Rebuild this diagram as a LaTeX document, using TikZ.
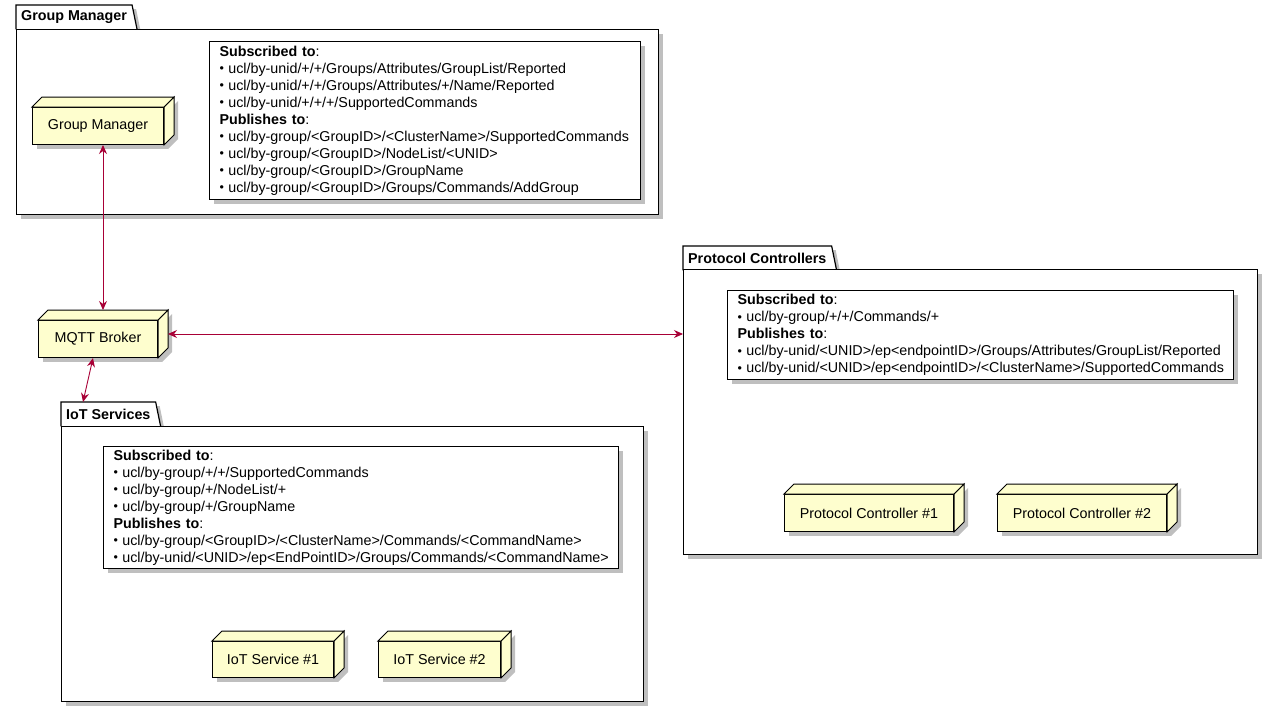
\documentclass[tikz,border=0pt]{standalone}
\usepackage{fontspec}
\setmainfont{Liberation Sans}
\usetikzlibrary{arrows.meta,shadows,backgrounds}

\definecolor{boxfill}{HTML}{FEFECE}
\definecolor{linkred}{HTML}{A80036}
\newcommand{\bul}{\raisebox{.6pt}{\fontsize{12.5}{10}\selectfont\textbullet}\hspace{4.5pt}}

\tikzset{
  softshadow/.style={drop shadow={shadow xshift=4pt, shadow yshift=-4pt, fill=black, opacity=.25}},
  pkgtab/.style={anchor=north west, inner xsep=5pt, inner ysep=0pt, minimum height=24pt, font=\fontsize{14.3}{17}\selectfont\bfseries},
  pkgbody/.style={draw, line width=1.2pt, fill=white, anchor=north west, inner sep=0pt, softshadow},
  notebox/.style={draw, line width=1pt, fill=white, anchor=north west, align=left, inner xsep=10pt, inner ysep=0pt, softshadow},
  device/.style={draw, line width=1pt, fill=boxfill, anchor=north west, inner sep=0pt, minimum height=37pt, softshadow},
  link/.style={draw=linkred, line width=.9pt, {Stealth[length=9pt,width=8pt,inset=3pt]}-{Stealth[length=9pt,width=8pt,inset=3pt]}}
}

\begin{document}
\begin{tikzpicture}[x=1pt, y=-1pt, font=\fontsize{14.3}{17}\selectfont]
    \useasboundingbox (0,0) rectangle (1274,707);

    % packages
    \node[pkgtab] (gmtab) at (16,5) {Group Manager};
    \node[pkgbody, minimum width=642pt, minimum height=185pt] (gmbody) at (16,29) {};
    \node[pkgtab] (pctab) at (683,246) {Protocol Controllers};
    \node[pkgbody, minimum width=574pt, minimum height=285pt] (pcbody) at (683,269) {};
    \node[pkgtab] (iottab) at (61,402) {IoT Services};
    \node[pkgbody, minimum width=582pt, minimum height=275pt] (iotbody) at (61,426) {};
    \begin{scope}[on background layer]
        \foreach \t in {gmtab,pctab,iottab}
            \draw[line width=1.2pt, fill=white, softshadow] (\t.south west) -- (\t.north west) -- (\t.north east) -- ([xshift=5pt]\t.south east);
    \end{scope}

    % notes
    \node[notebox, text width=411pt, minimum height=158pt] (gmnote) at (209,41) {%
        \textbf{Subscribed to}:\\
        \bul ucl/by-unid/+/+/Groups/Attributes/GroupList/Reported\\
        \bul ucl/by-unid/+/+/Groups/Attributes/+/Name/Reported\\
        \bul ucl/by-unid/+/+/+/SupportedCommands\\
        \textbf{Publishes to}:\\
        \bul ucl/by-group/<GroupID>/<ClusterName>/SupportedCommands\\
        \bul ucl/by-group/<GroupID>/NodeList/<UNID>\\
        \bul ucl/by-group/<GroupID>/GroupName\\
        \bul ucl/by-group/<GroupID>/Groups/Commands/AddGroup};
    \node[notebox, text width=486pt, minimum height=89pt] (pcnote) at (727,290) {%
        \textbf{Subscribed to}:\\
        \bul ucl/by-group/+/+/Commands/+\\
        \textbf{Publishes to}:\\
        \bul ucl/by-unid/<UNID>/ep<endpointID>/Groups/Attributes/GroupList/Reported\\
        \bul ucl/by-unid/<UNID>/ep<endpointID>/<ClusterName>/SupportedCommands};
    \node[notebox, text width=495pt, minimum height=122pt] (iotnote) at (103,446) {%
        \textbf{Subscribed to}:\\
        \bul ucl/by-group/+/+/SupportedCommands\\
        \bul ucl/by-group/+/NodeList/+\\
        \bul ucl/by-group/+/GroupName\\
        \textbf{Publishes to}:\\
        \bul ucl/by-group/<GroupID>/<ClusterName>/Commands/<CommandName>\\
        \bul ucl/by-unid/<UNID>/ep<EndPointID>/Groups/Commands/<CommandName>};

    % nodes
    \node[device, minimum width=131pt] (gm) at (32,107) {Group Manager};
    \node[device, minimum width=119pt] (broker) at (38,320) {MQTT Broker};
    \node[device, minimum width=169pt] (pc1) at (784,494) {Protocol Controller \#1};
    \node[device, minimum width=169pt] (pc2) at (997,494) {Protocol Controller \#2};
    \node[device, minimum width=121pt, minimum height=36pt] (ios1) at (212,641) {IoT Service \#1};
    \node[device, minimum width=122pt, minimum height=36pt] (ios2) at (378,641) {IoT Service \#2};
    \foreach \n in {gm,broker,pc1,pc2,ios1,ios2}{
        \draw[line width=1pt, fill=boxfill, softshadow] (\n.south east) -- (\n.north east) -- ++(10,-10) -- ([shift={(10pt,10pt)}]\n.south east) -- cycle;
        \draw[line width=1pt, fill=boxfill] (\n.north west) -- ++(10,-10) -- ([shift={(10pt,10pt)}]\n.north east) -- (\n.north east) -- cycle;
    }

    % links
    \coordinate (brokerR) at ([shift={(10pt,5pt)}]broker.east);
    \draw[link] ([xshift=5pt]gm.south) -- ([shift={(5pt,10pt)}]broker.north);
    \draw[link] (brokerR) -- (brokerR -| pcbody.west);
    \draw[link] ([xshift=-5pt]broker.south) -- ([xshift=22pt]iottab.north west);
\end{tikzpicture}
\end{document}
